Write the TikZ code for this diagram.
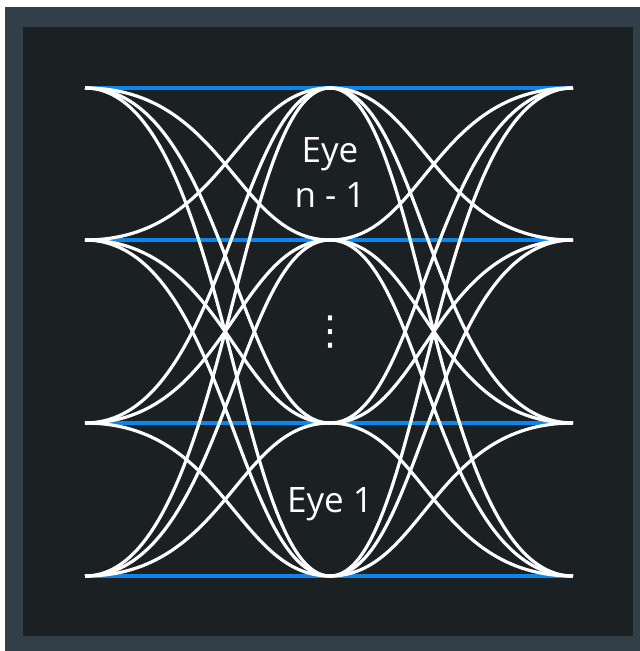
\documentclass[tikz,border=0pt]{standalone}
\usepackage{fontspec}
\setmainfont{Open Sans}
\newfontfamily\dotsfont{DejaVu Sans}
\definecolor{frameslate}{HTML}{323F49}
\definecolor{paneldark}{HTML}{1B2023}
\definecolor{levelblue}{HTML}{0A86EC}
\begin{document}
\begin{tikzpicture}[x=1pt,y=-1pt,
  eyecurve/.style={draw=white,line width=3.2pt},
  levelline/.style={draw=levelblue,line width=3.6pt},
  eyelabel/.style={text=white,font=\fontsize{35}{42}\selectfont,anchor=base,inner sep=0pt}]
\useasboundingbox (0,0) rectangle (640,651);
\fill[white] (0,0) rectangle (640,651);
\fill[frameslate] (5,7) rectangle (640,651);
\fill[paneldark] (23,27) rectangle (633,636);
\foreach \i/\y in {1/88,2/240,3/423,4/576}{
  \coordinate (L\i) at (85,\y);
  \coordinate (C\i) at (330,\y);
  \coordinate (R\i) at (573,\y);
}
\foreach \i in {1,...,4}{\draw[levelline] (L\i) -- (R\i);}
\foreach \i in {1,...,4}{
  \foreach \j in {1,...,4}{
    \ifnum\i=\j\else
      \draw[eyecurve] (L\i) .. controls +(140,0) and +(-93,0) .. (C\j);
      \draw[eyecurve] (C\i) .. controls +(93,0) and +(-140,0) .. (R\j);
    \fi
  }
}
\node[eyelabel] (eyetop1) at (330,162) {Eye};
\node[eyelabel] (eyetop2) at (330,207) {n - 1};
\node[text=white,font=\dotsfont\fontsize{40}{44}\selectfont,inner sep=0pt] (vdots) at (330,332) {⋮};
\node[eyelabel] (eyebot) at (330,512) {Eye 1};
\end{tikzpicture}
\end{document}
